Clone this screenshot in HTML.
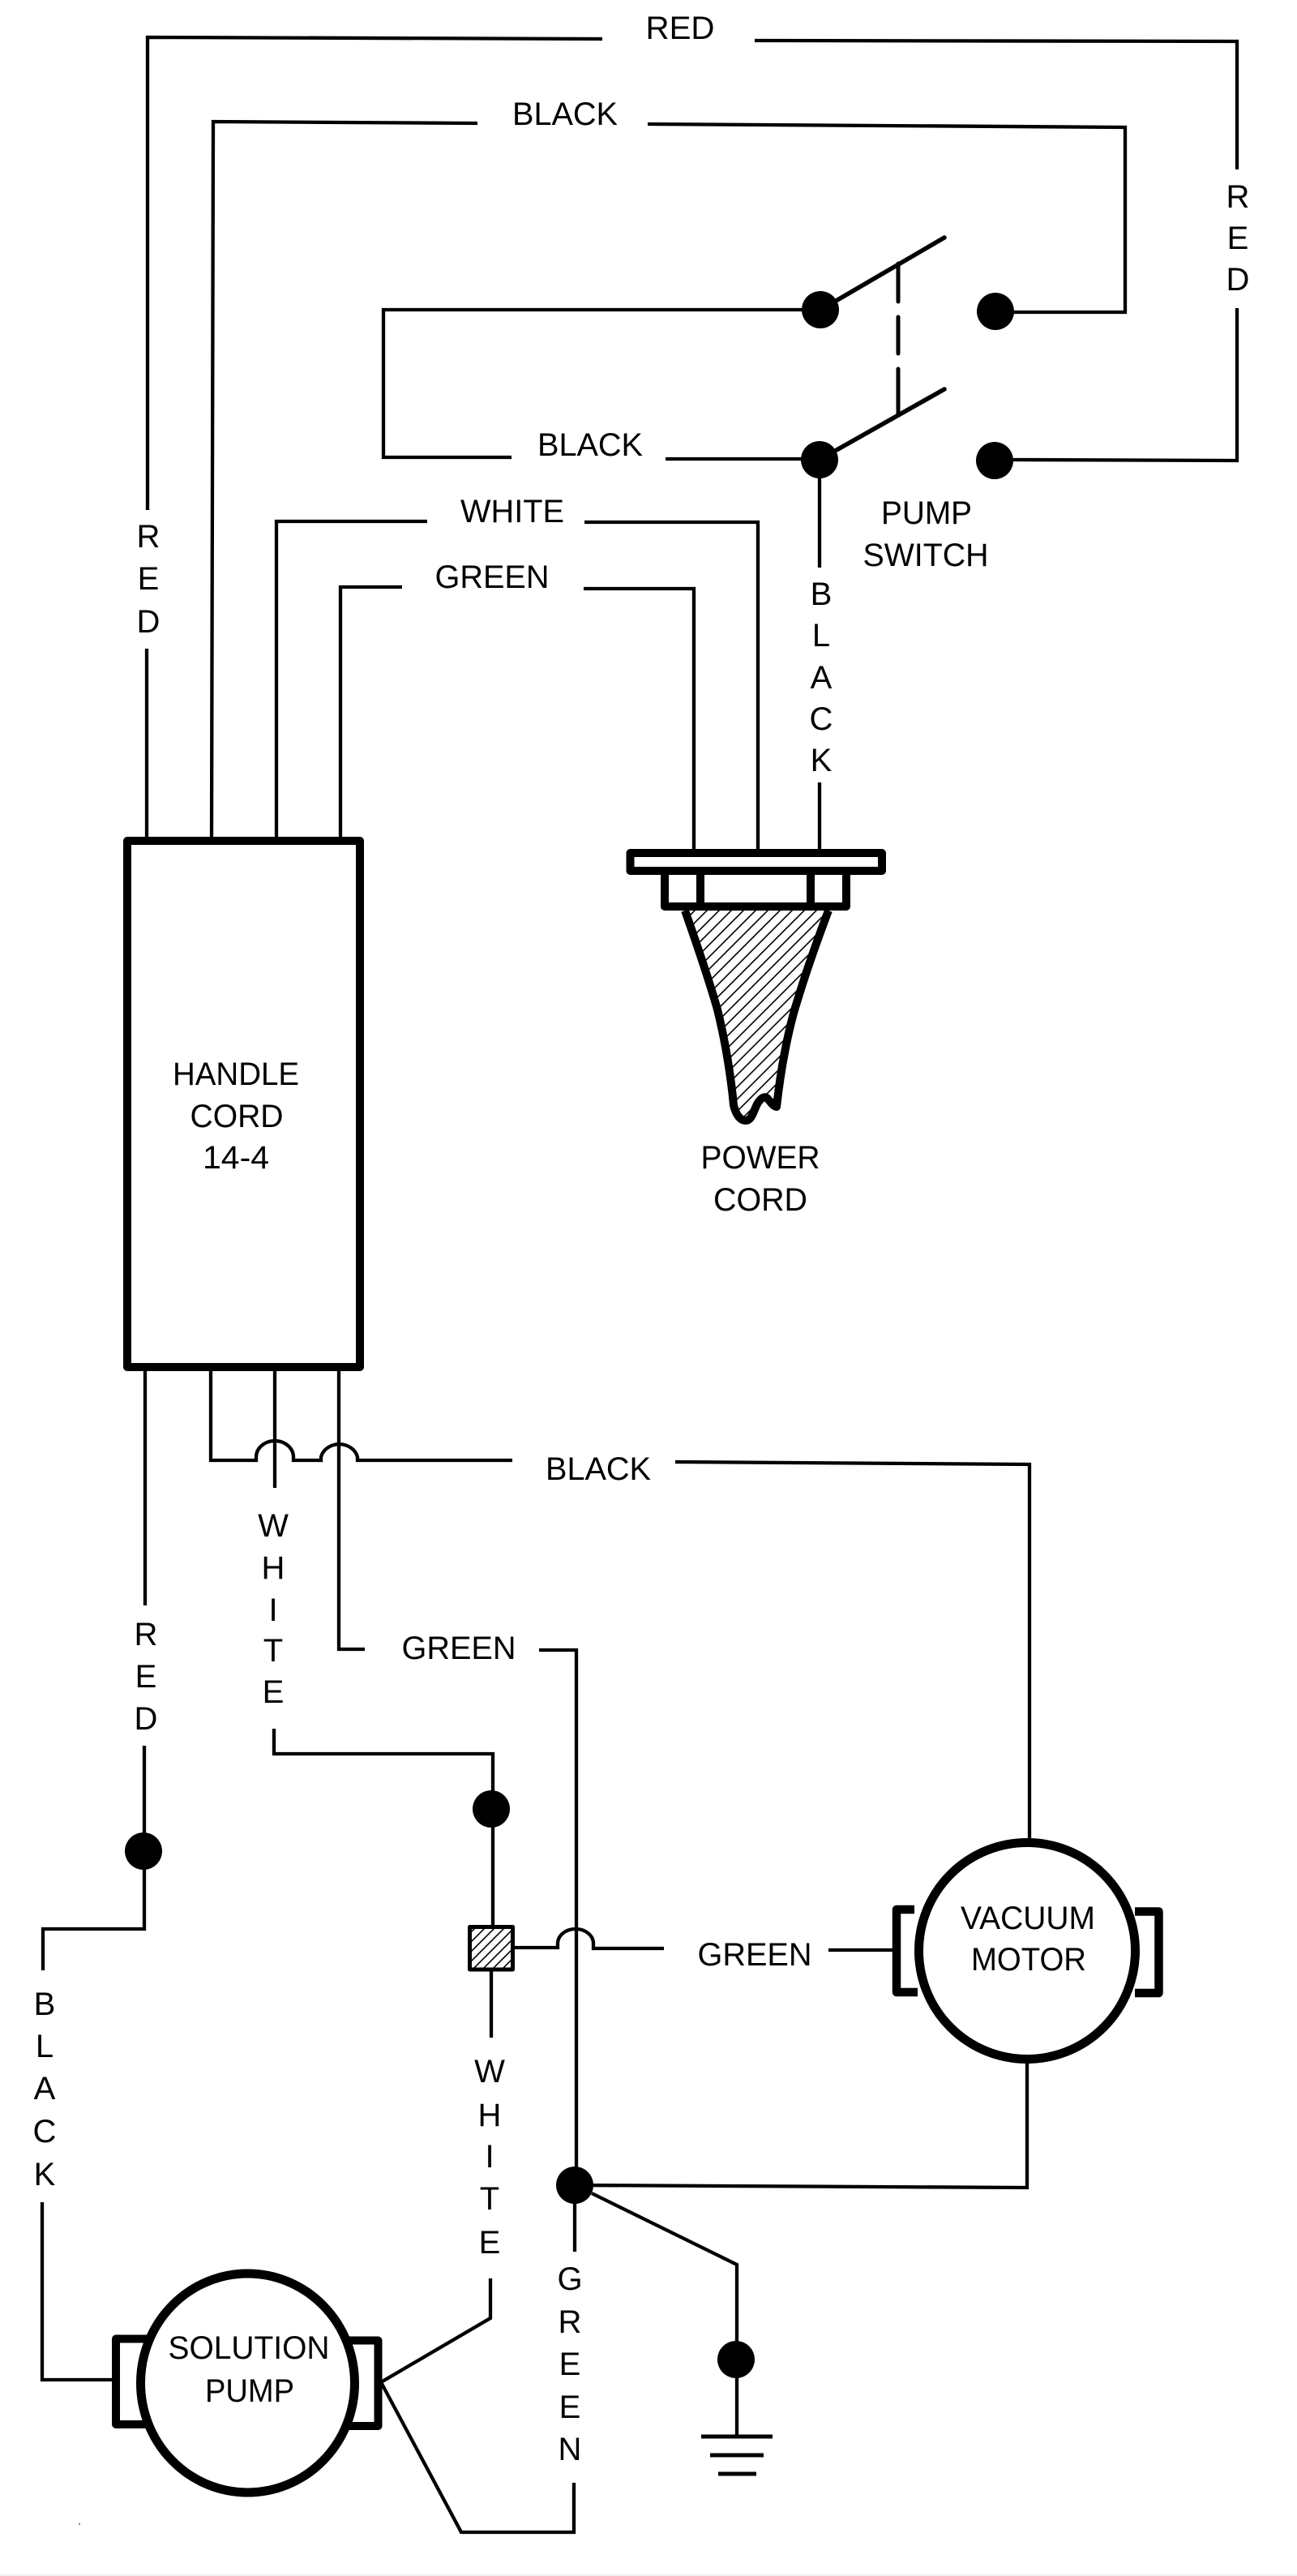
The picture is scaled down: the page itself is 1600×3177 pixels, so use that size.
<!DOCTYPE html>
<html>
<head>
<meta charset="utf-8">
<style>
html,body{margin:0;padding:0;background:#fff;}
svg{display:block;}
text{font-family:"Liberation Sans",sans-serif;font-size:40px;fill:#000;text-anchor:middle;}
</style>
</head>
<body>
<svg xmlns="http://www.w3.org/2000/svg" width="1600" height="3177" viewBox="0 0 1600 3177">
<defs>
<pattern id="h" width="15" height="15" patternUnits="userSpaceOnUse">
<path d="M-5 20L20 -5M-5 5L5 -5M10 20L20 10" stroke="#000" stroke-width="1.6" fill="none"/>
</pattern>
<pattern id="h2" width="12" height="12" patternUnits="userSpaceOnUse">
<path d="M-3 15L15 -3M-3 3L3 -3M9 15L15 9" stroke="#000" stroke-width="1.6" fill="none"/>
</pattern>
</defs>
<rect width="1600" height="3177" fill="#fff"/>
<rect y="3175" width="1600" height="2" fill="#eee"/>
<rect x="97" y="3112" width="2" height="2" fill="#888"/>

<g fill="none" stroke="#000" stroke-width="4.3">
<!-- top wires -->
<path d="M181 1035V800M182 629V46L743 48"/>
<path d="M931 50L1526 51V209M1526 380V568L1250 567"/>
<path d="M261 1035L263 150L589 152M799 153L1388 157V385H1250"/>
<path d="M1011 382H473V564H631M821 566H1011"/>
<path d="M341 1035V643H527M721 644H935V1049"/>
<path d="M420 1035V724H496M720 726H856V1049"/>
<path d="M1011 567V700M1011 965V1049"/>
<!-- below handle -->
<path d="M179 1691V1980"/>
<path d="M260 1691V1801H316V1797A23 20 0 0 1 362 1797V1801H396V1797A23 20 0 0 1 441 1797V1801H632"/>
<path d="M833 1803L1270 1806V2267"/>
<path d="M339 1691V1835"/>
<path d="M418 1691V2034H450"/>
<path d="M665 2035H711V2695"/>
<path d="M178 2153V2379H53V2430"/>
<path d="M52 2716V2935H141"/>
<path d="M338 2132V2163H608V2375"/>
<path d="M606 2431V2513"/>
<path d="M605 2810V2859L470 2938"/>
<path d="M470 2938L569 3123H708V3062"/>
<path d="M709 2695V2777"/>
<path d="M635 2402H688V2397A22 18 0 0 1 732 2397V2403H819"/>
<path d="M1022 2405H1102"/>
<path d="M1267 2545V2698L709 2695"/>
<path d="M730 2705L909 2793V3003"/>
<!-- switch -->
<path d="M1033 370L1165 293M1032 555L1165 480" stroke-width="5.5" stroke-linecap="round"/>
<path d="M1108 325V372M1108 391V436M1108 455V510" stroke-width="5" stroke-linecap="round"/>
<!-- ground -->
<path d="M865 3005H953M876 3028H942M886 3051H933" stroke-width="5"/>
<!-- handle box -->
<rect x="157" y="1037" width="287" height="649" stroke-width="10" stroke-linejoin="round"/>
<!-- plug -->
<rect x="777.5" y="1052" width="310.5" height="22" stroke-width="10" stroke-linejoin="round"/>
<path d="M820 1075V1118H1044V1075M864 1075V1118M1000 1075V1118" stroke-width="10" stroke-linejoin="round"/>
<path d="M845 1123C858 1160 875 1210 885 1245C895 1285 902 1330 905 1363C908 1376 914 1382 920 1382C928 1382 930 1368 935 1360C939 1354 943 1352 946 1354C950 1358 953 1364 958 1365C963 1320 972 1270 984 1233C994 1200 1008 1160 1022 1123" fill="url(#h)" stroke-width="10" stroke-linejoin="round"/>
<!-- motors -->
<path d="M1128 2355H1106V2457H1132" stroke-width="10.5" stroke-linejoin="round"/>
<path d="M1400 2357.5H1429.5V2458H1400" stroke-width="10.5" stroke-linejoin="round"/>
<circle cx="1267" cy="2406" r="133.5" fill="#fff" stroke-width="11"/>
<path d="M185 2884.5H143V2990H188" stroke-width="10" stroke-linejoin="round"/>
<path d="M425 2886.5H466.5V2992H425" stroke-width="10" stroke-linejoin="round"/>
<ellipse cx="305.5" cy="2939" rx="132" ry="135" fill="#fff" stroke-width="11"/>
<!-- junction box -->
<rect x="579.5" y="2376.5" width="53" height="52.5" fill="url(#h2)" stroke-width="5" stroke-linejoin="round"/>
</g>

<g fill="#000">
<circle cx="1012" cy="382" r="23"/>
<circle cx="1228" cy="384" r="23"/>
<circle cx="1011" cy="567" r="23"/>
<circle cx="1227" cy="568" r="23"/>
<circle cx="177" cy="2283" r="23"/>
<circle cx="606" cy="2231" r="23"/>
<circle cx="709" cy="2695" r="23"/>
<circle cx="908" cy="2910" r="23"/>
</g>

<text x="839" y="48" textLength="85" lengthAdjust="spacingAndGlyphs">RED</text>
<text x="697" y="154" textLength="130" lengthAdjust="spacingAndGlyphs">BLACK</text>
<text x="1527" y="256">R</text><text x="1527" y="307">E</text><text x="1527" y="358">D</text>
<text x="728" y="562" textLength="130" lengthAdjust="spacingAndGlyphs">BLACK</text>
<text x="632" y="644" textLength="128" lengthAdjust="spacingAndGlyphs">WHITE</text>
<text x="607" y="725" textLength="141" lengthAdjust="spacingAndGlyphs">GREEN</text>
<text x="1143" y="646" textLength="112" lengthAdjust="spacingAndGlyphs">PUMP</text>
<text x="1142" y="698" textLength="155" lengthAdjust="spacingAndGlyphs">SWITCH</text>
<text x="183" y="675">R</text><text x="183" y="727">E</text><text x="183" y="780">D</text>
<text x="1013" y="746">B</text><text x="1013" y="797">L</text><text x="1013" y="849">A</text><text x="1013" y="900">C</text><text x="1013" y="951">K</text>
<text x="291" y="1338" textLength="156" lengthAdjust="spacingAndGlyphs">HANDLE</text>
<text x="292" y="1390" textLength="115" lengthAdjust="spacingAndGlyphs">CORD</text>
<text x="291" y="1441" textLength="82" lengthAdjust="spacingAndGlyphs">14-4</text>
<text x="938" y="1441" textLength="147" lengthAdjust="spacingAndGlyphs">POWER</text>
<text x="938" y="1493" textLength="116" lengthAdjust="spacingAndGlyphs">CORD</text>
<text x="738" y="1825" textLength="130" lengthAdjust="spacingAndGlyphs">BLACK</text>
<text x="566" y="2046" textLength="141" lengthAdjust="spacingAndGlyphs">GREEN</text>
<text x="180" y="2029">R</text><text x="180" y="2081">E</text><text x="180" y="2133">D</text>
<text x="337" y="1895">W</text><text x="337" y="1947">H</text><text x="337" y="1999">I</text><text x="337" y="2049">T</text><text x="337" y="2100">E</text>
<text x="55" y="2485">B</text><text x="55" y="2537">L</text><text x="55" y="2589">A</text><text x="55" y="2642">C</text><text x="55" y="2695">K</text>
<text x="604" y="2568">W</text><text x="604" y="2622">H</text><text x="604" y="2673">I</text><text x="604" y="2725">T</text><text x="604" y="2779">E</text>
<text x="703" y="2824">G</text><text x="703" y="2877">R</text><text x="703" y="2929">E</text><text x="703" y="2982">E</text><text x="703" y="3034">N</text>
<text x="931" y="2424" textLength="141" lengthAdjust="spacingAndGlyphs">GREEN</text>
<text x="1268" y="2379" textLength="166" lengthAdjust="spacingAndGlyphs">VACUUM</text>
<text x="1269" y="2430" textLength="142" lengthAdjust="spacingAndGlyphs">MOTOR</text>
<text x="307" y="2909" textLength="199" lengthAdjust="spacingAndGlyphs">SOLUTION</text>
<text x="308" y="2962" textLength="110" lengthAdjust="spacingAndGlyphs">PUMP</text>
</svg>
</body>
</html>
